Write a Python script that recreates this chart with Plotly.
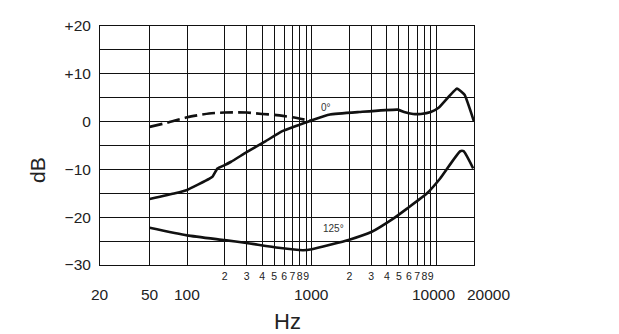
import math
import plotly.graph_objects as go

# Frequency response, dB vs Hz
dash_freq = [50, 70, 100, 150, 200, 300, 400, 500, 700, 1000]
dash_db = [-1.1, -0.2, 0.9, 1.7, 1.9, 1.9, 1.6, 1.4, 0.9, 0.1]

on_axis_freq = [50, 80, 100, 150, 160, 175, 200, 225, 300, 420, 570, 790, 1000,
                1400, 2400, 4900, 5500, 6500, 7500, 9000, 10400, 14600, 16800, 20000]
on_axis_db = [-16.2, -15.0, -14.3, -12.0, -11.5, -9.8, -9.1, -8.4, -6.4, -4.2, -2.1,
              -0.7, 0.3, 1.5, 2.0, 2.5, 2.0, 1.6, 1.6, 2.0, 2.9, 6.9, 5.6, 0.0]

rear_freq = [50, 100, 200, 300, 540, 850, 1000, 2000, 3000, 4500, 5800, 8400,
             10700, 15500, 16500, 19700]
rear_db = [-22.2, -23.8, -24.8, -25.4, -26.4, -26.9, -26.7, -24.7, -23.1, -20.3,
           -18.2, -15.0, -11.9, -6.2, -6.2, -9.8]

# Grid / tick definitions
grid_freqs = [50, 100, 200, 300, 400, 500, 600, 700, 800, 900, 1000,
              2000, 3000, 4000, 5000, 6000, 7000, 8000, 9000, 10000]
grid_text = ["", "", "2", "3", "4", "5", "6", "7", "8", "9", "",
             "2", "3", "4", "5", "6", "7", "8", "9", ""]
major_freqs = [20, 50, 100, 1000, 10000, 20000]
major_text = ["20", "50", "100", "1000", "10000", "20000"]
major_nudge = {10000: -3, 20000: 14}

db_ticks = list(range(-30, 25, 5))
db_labels = {20: "+20", 10: "+10", 0: "0", -10: "\u221210", -20: "\u221220", -30: "\u221230"}

curve_labels = [("0°", 1300, 3.0), ("125°", 1500, -22.4)]

INK = "#111111"
FONT = "Liberation Sans, Arial, sans-serif"

fig = go.Figure()
fig.add_trace(go.Scatter(x=dash_freq, y=dash_db, mode="lines",
                         line=dict(color=INK, width=2.6, dash="13px,5px",
                                   shape="spline", smoothing=0.6),
                         hoverinfo="skip"))
fig.add_trace(go.Scatter(x=on_axis_freq, y=on_axis_db, mode="lines",
                         line=dict(color=INK, width=2.6, shape="spline",
                                   smoothing=0.35),
                         hoverinfo="skip"))
fig.add_trace(go.Scatter(x=rear_freq, y=rear_db, mode="lines",
                         line=dict(color=INK, width=2.6, shape="spline",
                                   smoothing=0.5),
                         hoverinfo="skip"))

annotations = []
for f, t in zip(major_freqs, major_text):
    annotations.append(dict(x=math.log10(f), y=0, xref="x", yref="paper",
                            text=t, showarrow=False, xanchor="center",
                            yanchor="middle", yshift=-29,
                            xshift=major_nudge.get(f, 0),
                            font=dict(family=FONT, size=15.5, color="#222")))
for t, f, v in curve_labels:
    annotations.append(dict(x=math.log10(f), y=v, xref="x", yref="y", text=t,
                            showarrow=False, xanchor="center", yanchor="middle",
                            font=dict(family=FONT, size=10, color="#333")))
annotations.append(dict(x=0.5, y=0, xref="paper", yref="paper", text="Hz",
                        showarrow=False, xanchor="center", yanchor="middle",
                        yshift=-56, font=dict(family=FONT, size=22, color="#222")))
annotations.append(dict(x=0, y=0, xref="paper", yref="paper", text="dB",
                        showarrow=False, xanchor="center", yanchor="middle",
                        xshift=-63, yshift=95, textangle=-90,
                        font=dict(family=FONT, size=21, color="#222")))

fig.update_layout(
    width=619, height=334,
    margin=dict(l=100, r=145, t=26, b=69),
    paper_bgcolor="white", plot_bgcolor="white",
    showlegend=False,
    annotations=annotations,
    xaxis=dict(type="log", range=[math.log10(20), math.log10(20000)],
               tickvals=grid_freqs, ticktext=grid_text, ticks="",
               tickangle=0, ticklabelstandoff=1,
               tickfont=dict(family=FONT, size=10.5, color="#222"),
               showgrid=True, gridcolor=INK, gridwidth=1,
               showline=True, linecolor=INK, linewidth=1, mirror=True,
               zeroline=False, fixedrange=True),
    yaxis=dict(range=[-30, 20], tickvals=db_ticks,
               ticktext=[db_labels.get(v, "") for v in db_ticks], ticks="",
               ticklabelstandoff=5,
               tickfont=dict(family=FONT, size=15.5, color="#222"),
               showgrid=True, gridcolor=INK, gridwidth=1,
               showline=True, linecolor=INK, linewidth=1, mirror=True,
               zeroline=False, fixedrange=True),
)

fig.write_html("out.html", config={"displayModeBar": False, "staticPlot": True})
